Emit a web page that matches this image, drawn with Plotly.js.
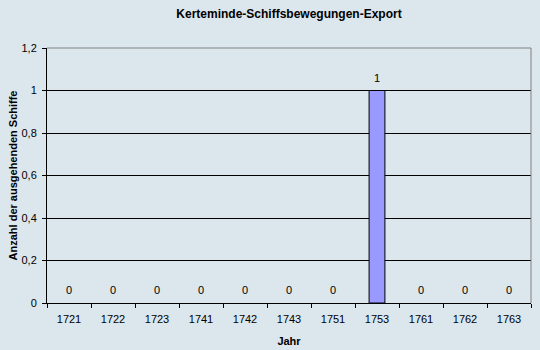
<!DOCTYPE html>
<html><head><meta charset="utf-8">
<script src="https://cdn.plot.ly/plotly-3.0.1.min.js"></script>
<style>html,body{margin:0;padding:0;background:#dce6ed;}</style>
</head><body>
<div id="chart" style="width:540px;height:350px;"></div>
<script>
const years = ['1721','1722','1723','1741','1742','1743','1751','1753','1761','1762','1763'];
const ships = [0,0,0,0,0,0,0,1,0,0,0];
const bg = '#dce6ed';
const trace = {
  type:'bar', x: years, y: ships,
  marker:{color:'#9999ff', line:{color:'#000', width:ships.map(v => v > 0 ? 1 : 0)}},
  width:0.36, hoverinfo:'none'
};
const labels = years.map((yr, i) => ({
  x: i, y: ships[i], xref:'x', yref:'y', text: String(ships[i]),
  showarrow:false, yanchor:'bottom', yshift:5,
  font:{family:'Liberation Sans, Arial, sans-serif', size:11, color:'#000'}
}));
const layout = {
  width:540, height:350, paper_bgcolor:bg, plot_bgcolor:bg,
  margin:{l:47, r:9, t:48, b:47},
  separators:',.',
  showlegend:false,
  font:{family:'Liberation Sans, Arial, sans-serif', size:11, color:'#000'},
  title:{text:'<b>Kerteminde-Schiffsbewegungen-Export</b>', x:0.5, xref:'paper', y:0.96, yanchor:'middle', font:{size:12}},
  xaxis:{type:'category', range:[-0.5, years.length - 0.5], showgrid:false, showline:true, linecolor:'#000', linewidth:1,
    ticks:'outside', tickson:'boundaries', ticklen:4, tickcolor:'#000', tickfont:{size:11},
    ticklabelstandoff:6,
    title:{text:'<b>Jahr</b>', font:{size:11}, standoff:13}},
  yaxis:{range:[0,1.2], dtick:0.2, tick0:0, showgrid:true, gridcolor:'#000', gridwidth:1,
    showline:true, linecolor:'#000', linewidth:1, zeroline:false,
    ticks:'outside', ticklen:4, tickcolor:'#000', tickfont:{size:11},
    ticklabelstandoff:3,
    title:{text:'<b>Anzahl der ausgehenden Schiffe</b>', font:{size:11}, standoff:1}},
  annotations: labels,
  shapes:[
    {type:'line', xref:'paper', yref:'paper', x0:0, x1:1, y0:1, y1:1, line:{color:'#808080', width:1}},
    {type:'line', xref:'paper', yref:'paper', x0:1, x1:1, y0:0, y1:1, line:{color:'#808080', width:1}}
  ]
};
Plotly.newPlot('chart',[trace],layout,{displayModeBar:false, staticPlot:true});
</script>
</body></html>
